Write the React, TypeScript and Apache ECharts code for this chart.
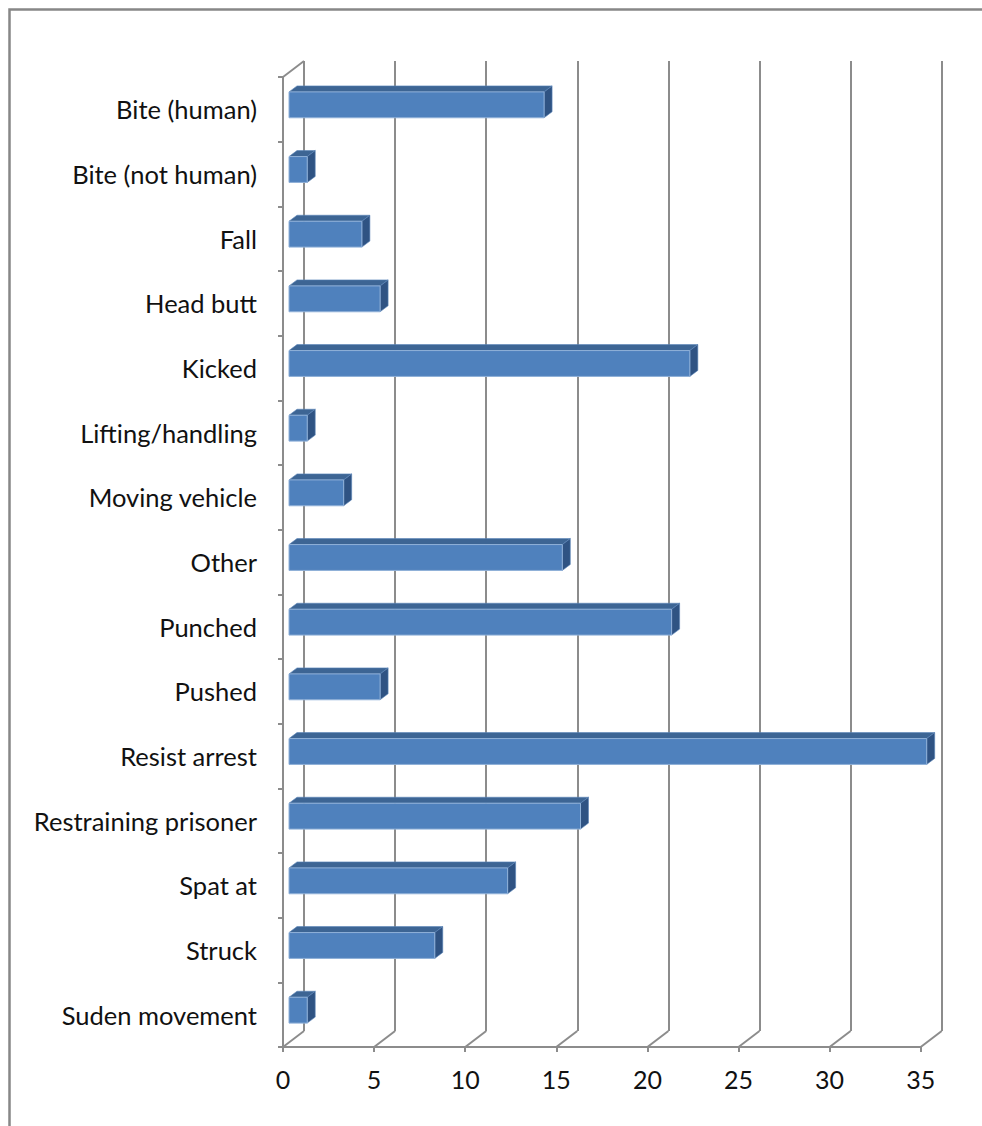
import React, { useEffect, useRef } from "react";
import * as echarts from "echarts";

const categories = [
  "Bite (human)",
  "Bite (not human)",
  "Fall",
  "Head butt",
  "Kicked",
  "Lifting/handling",
  "Moving vehicle",
  "Other",
  "Punched",
  "Pushed",
  "Resist arrest",
  "Restraining prisoner",
  "Spat at",
  "Struck",
  "Suden movement",
];
const values = [14, 1, 4, 5, 22, 1, 3, 15, 21, 5, 35, 16, 12, 8, 1];
const xTicks = [0, 5, 10, 15, 20, 25, 30, 35];

const DEPTH_X = 21;
const DEPTH_Y = 16;
const FRONT_X = 6;
const FRONT_Y = 4.5;
const BAR_DX = 8;
const BAR_DY = 6;
const GRID_COLOR = "#8c8c8c";
const FONT = "Lato";

export default function App() {
  const ref = useRef<HTMLDivElement>(null);
  useEffect(() => {
    if (!ref.current) return;
    const chart = echarts.init(ref.current, undefined, { renderer: "svg" });
    const barData = values.map((v, i) => [v, i]);
    const tickData = xTicks.map((t) => [t, 0]);
    const frontGrid = { left: 283, top: 77, width: 637.7, height: 970 };
    const option: any = {
      animation: false,
      backgroundColor: "#ffffff",
      grid: [
        frontGrid,
        { left: 283 + DEPTH_X, top: 77 - DEPTH_Y, width: 637.7, height: 970 },
      ],
      xAxis: [
        {
          type: "value",
          gridIndex: 0,
          min: 0,
          max: 35,
          interval: 5,
          axisLine: { show: true, lineStyle: { color: GRID_COLOR, width: 2 } },
          axisTick: { show: true, length: 5, lineStyle: { color: GRID_COLOR, width: 2 } },
          splitLine: { show: false },
          axisLabel: {
            margin: 19,
            fontFamily: FONT,
            fontSize: 25,
            color: "#111111",
          },
        },
        {
          type: "value",
          gridIndex: 1,
          min: 0,
          max: 35,
          interval: 5,
          axisLine: { show: false },
          axisTick: { show: false },
          axisLabel: { show: false },
          splitLine: { show: true, lineStyle: { color: GRID_COLOR, width: 2 } },
        },
      ],
      yAxis: [
        {
          type: "category",
          gridIndex: 0,
          data: categories,
          inverse: true,
          axisLine: { show: true, lineStyle: { color: GRID_COLOR, width: 2 } },
          axisTick: { show: true, length: 5, lineStyle: { color: GRID_COLOR, width: 2 } },
          splitLine: { show: false },
          axisLabel: {
            margin: 26,
            fontFamily: FONT,
            fontSize: 25.5,
            color: "#111111",
          },
        },
        {
          type: "category",
          gridIndex: 1,
          data: categories,
          inverse: true,
          show: false,
        },
      ],
      graphic: [
        {
          type: "rect",
          shape: { x: 9.5, y: 9.5, width: 1200, height: 1400 },
          style: { fill: "none", stroke: "#878787", lineWidth: 2.5 },
          silent: true,
        },
      ],
      series: [
        {
          type: "custom",
          name: "floor",
          xAxisIndex: 0,
          yAxisIndex: 0,
          data: tickData,
          silent: true,
          z: 1,
          renderItem: (params: any, api: any) => {
            const cs = params.coordSys;
            const p = api.coord([api.value(0), 0]);
            const bottom = cs.y + cs.height;
            const children: any[] = [
              {
                type: "line",
                shape: { x1: p[0], y1: bottom, x2: p[0] + DEPTH_X, y2: bottom - DEPTH_Y },
                style: { stroke: GRID_COLOR, lineWidth: 2 },
              },
            ];
            if (params.dataIndex === 0) {
              children.push({
                type: "line",
                shape: { x1: cs.x, y1: cs.y, x2: cs.x + DEPTH_X, y2: cs.y - DEPTH_Y },
                style: { stroke: GRID_COLOR, lineWidth: 2 },
              });
            }
            return { type: "group", children };
          },
        },
        {
          type: "custom",
          name: "bars",
          xAxisIndex: 0,
          yAxisIndex: 0,
          data: barData,
          z: 5,
          renderItem: (params: any, api: any) => {
            const v = api.value(0);
            const idx = api.value(1);
            const p0 = api.coord([0, idx]);
            const p1 = api.coord([v, idx]);
            const band = api.size([0, 1])[1];
            const h = band * 0.4;
            const x0 = p0[0] + FRONT_X;
            const x1 = p1[0] + FRONT_X;
            const cy = p0[1] - FRONT_Y;
            const yt = cy - h / 2;
            const yb = cy + h / 2;
            return {
              type: "group",
              children: [
                {
                  type: "polygon",
                  shape: {
                    points: [
                      [x0, yt],
                      [x1, yt],
                      [x1 + BAR_DX, yt - BAR_DY],
                      [x0 + BAR_DX, yt - BAR_DY],
                    ],
                  },
                  style: { fill: "#3d6594", stroke: "#5a84b8", lineWidth: 0.6 },
                },
                {
                  type: "polygon",
                  shape: {
                    points: [
                      [x1, yt],
                      [x1 + BAR_DX, yt - BAR_DY],
                      [x1 + BAR_DX, yb - BAR_DY],
                      [x1, yb],
                    ],
                  },
                  style: { fill: "#2f5383", stroke: "#5a84b8", lineWidth: 0.6 },
                },
                {
                  type: "rect",
                  shape: { x: x0, y: yt, width: x1 - x0, height: h },
                  style: { fill: "#4f81bd", stroke: "#8fb0d8", lineWidth: 1 },
                },
              ],
            };
          },
        },
      ],
    };
    chart.setOption(option);
    return () => chart.dispose();
  }, []);
  return (
    <div
      ref={ref}
      style={{ position: "absolute", left: 0, top: 0, width: 982, height: 1126 }}
    />
  );
}
